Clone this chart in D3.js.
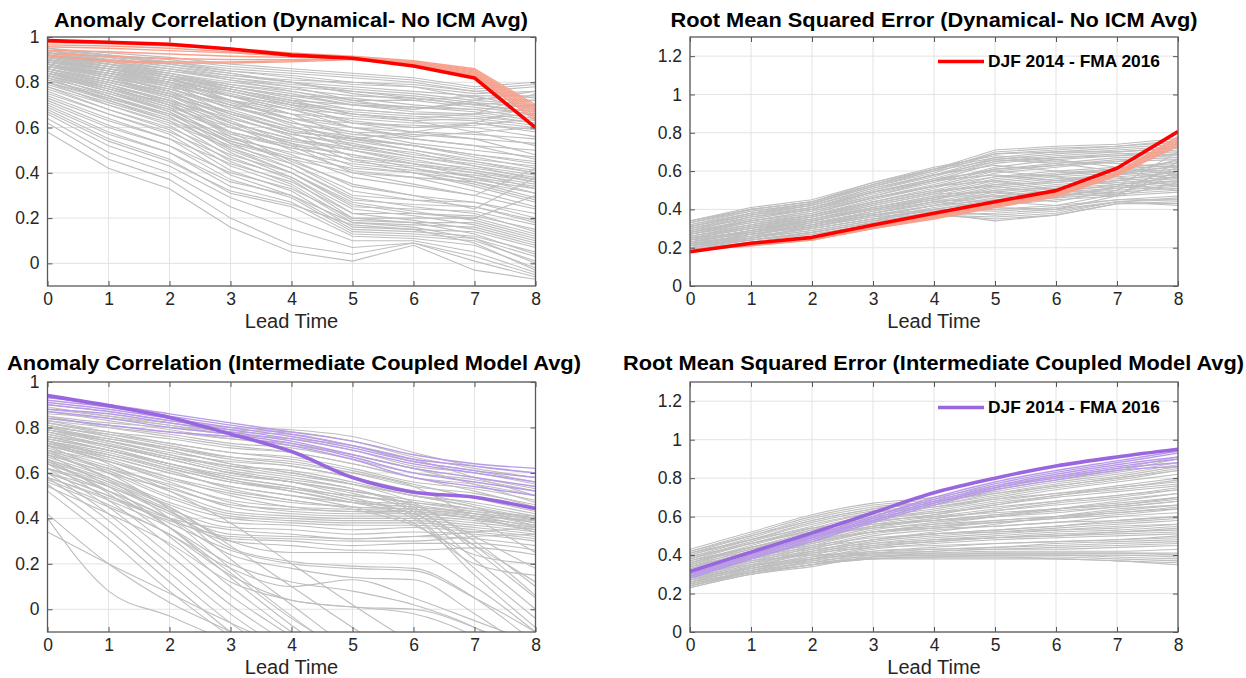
<!DOCTYPE html>
<html><head><meta charset="utf-8">
<script src="https://cdn.jsdelivr.net/npm/d3@7"></script>
<style>
body{margin:0;background:#fff;}
svg{display:block;font-family:"Liberation Sans",Arial,Helvetica,sans-serif;}
</style></head><body>
<svg id="chart" width="1246" height="678"></svg>
<script>
// ---------- shared ----------
const leadTimes = [0,1,2,3,4,5,6,7,8];
const xTickLabels = ["0","1","2","3","4","5","6","7","8"];
const acTicks = [0,0.2,0.4,0.6,0.8,1];
const rmseTicks = [0,0.2,0.4,0.6,0.8,1,1.2];
const legendLabel = "DJF 2014 - FMA 2016";
const titles = [
  "Anomaly Correlation (Dynamical- No ICM Avg)",
  "Root Mean Squared Error (Dynamical- No ICM Avg)",
  "Anomaly Correlation (Intermediate Coupled Model Avg)",
  "Root Mean Squared Error (Intermediate Coupled Model Avg)"
];
const xLabel = "Lead Time";

// ---------- panel 1: anomaly correlation, dynamical ----------
const acDynGray = [
[0.95,0.93,0.91,0.88,0.86,0.84,0.82,0.78,0.80],
[0.94,0.92,0.90,0.87,0.85,0.83,0.81,0.77,0.79],
[0.93,0.91,0.89,0.86,0.84,0.82,0.80,0.76,0.78],
[0.93,0.90,0.88,0.85,0.82,0.79,0.78,0.75,0.76],
[0.92,0.90,0.87,0.84,0.80,0.78,0.76,0.74,0.74],
[0.92,0.89,0.86,0.83,0.81,0.80,0.78,0.73,0.72],
[0.91,0.89,0.86,0.82,0.79,0.77,0.75,0.72,0.70],
[0.91,0.88,0.85,0.81,0.78,0.76,0.74,0.71,0.69],
[0.90,0.87,0.84,0.80,0.77,0.74,0.73,0.70,0.67],
[0.90,0.86,0.83,0.79,0.76,0.72,0.72,0.69,0.66],
[0.89,0.86,0.82,0.78,0.74,0.73,0.70,0.68,0.64],
[0.89,0.85,0.81,0.77,0.72,0.70,0.69,0.67,0.63],
[0.88,0.84,0.80,0.76,0.71,0.68,0.66,0.65,0.62],
[0.88,0.83,0.79,0.74,0.70,0.67,0.65,0.64,0.61],
[0.87,0.83,0.78,0.72,0.68,0.66,0.64,0.63,0.60],
[0.87,0.82,0.77,0.70,0.66,0.64,0.62,0.62,0.58],
[0.86,0.81,0.76,0.69,0.64,0.62,0.61,0.60,0.56],
[0.94,0.91,0.87,0.83,0.80,0.75,0.72,0.74,0.68],
[0.93,0.89,0.85,0.82,0.78,0.72,0.68,0.71,0.65],
[0.95,0.92,0.89,0.85,0.83,0.80,0.79,0.76,0.73],
[0.91,0.88,0.84,0.79,0.75,0.70,0.67,0.66,0.62],
[0.90,0.86,0.81,0.75,0.69,0.63,0.60,0.62,0.59],
[0.92,0.87,0.82,0.72,0.64,0.60,0.55,0.52,0.50],
[0.91,0.86,0.80,0.70,0.62,0.58,0.53,0.50,0.47],
[0.90,0.85,0.79,0.68,0.60,0.56,0.52,0.48,0.45],
[0.89,0.84,0.78,0.66,0.58,0.55,0.50,0.46,0.43],
[0.88,0.83,0.76,0.64,0.57,0.53,0.48,0.45,0.41],
[0.87,0.82,0.75,0.62,0.55,0.51,0.47,0.44,0.40],
[0.86,0.80,0.73,0.60,0.54,0.50,0.45,0.42,0.38],
[0.85,0.79,0.72,0.58,0.52,0.48,0.44,0.41,0.37],
[0.84,0.78,0.70,0.57,0.51,0.46,0.43,0.40,0.36],
[0.83,0.76,0.68,0.55,0.49,0.44,0.41,0.39,0.35],
[0.82,0.75,0.67,0.54,0.47,0.42,0.40,0.37,0.33],
[0.81,0.74,0.66,0.53,0.46,0.40,0.38,0.36,0.31],
[0.89,0.85,0.80,0.74,0.66,0.55,0.52,0.47,0.42],
[0.88,0.84,0.78,0.72,0.63,0.52,0.49,0.43,0.39],
[0.87,0.83,0.77,0.70,0.61,0.50,0.46,0.41,0.36],
[0.86,0.81,0.75,0.67,0.58,0.47,0.44,0.38,0.34],
[0.90,0.86,0.81,0.76,0.70,0.62,0.58,0.55,0.48],
[0.85,0.80,0.74,0.65,0.56,0.45,0.42,0.36,0.29],
[0.84,0.79,0.72,0.63,0.53,0.43,0.40,0.34,0.27],
[0.83,0.77,0.70,0.61,0.50,0.41,0.38,0.32,0.25],
[0.86,0.79,0.71,0.56,0.44,0.30,0.28,0.27,0.22],
[0.85,0.77,0.69,0.53,0.42,0.28,0.26,0.25,0.19],
[0.84,0.76,0.67,0.51,0.40,0.25,0.24,0.23,0.17],
[0.83,0.74,0.65,0.49,0.38,0.22,0.22,0.21,0.15],
[0.82,0.72,0.63,0.47,0.37,0.20,0.20,0.20,0.13],
[0.80,0.70,0.61,0.45,0.35,0.19,0.18,0.18,0.11],
[0.78,0.68,0.59,0.43,0.34,0.18,0.17,0.16,0.09],
[0.76,0.66,0.57,0.41,0.32,0.16,0.15,0.14,0.07],
[0.74,0.64,0.55,0.39,0.30,0.15,0.14,0.12,0.05],
[0.72,0.61,0.52,0.37,0.29,0.14,0.13,0.11,0.03],
[0.70,0.58,0.49,0.34,0.27,0.13,0.12,0.10,0.01],
[0.68,0.55,0.46,0.31,0.25,0.12,0.11,0.08,-0.02],
[0.66,0.52,0.43,0.29,0.20,0.10,0.10,0.05,-0.04],
[0.64,0.49,0.40,0.25,0.15,0.07,0.09,0.03,-0.05],
[0.62,0.46,0.37,0.20,0.08,0.04,0.09,0.01,-0.06],
[0.58,0.42,0.33,0.16,0.05,0.01,0.08,-0.03,-0.07],
[0.88,0.83,0.76,0.66,0.58,0.55,0.58,0.62,0.70],
[0.86,0.81,0.74,0.62,0.52,0.40,0.35,0.30,0.42],
[0.84,0.78,0.70,0.58,0.45,0.35,0.30,0.24,0.38],
[0.80,0.73,0.65,0.50,0.40,0.26,0.22,0.20,0.30],
[0.92,0.88,0.83,0.77,0.71,0.66,0.63,0.58,0.52],
[0.87,0.84,0.80,0.74,0.68,0.60,0.56,0.58,0.60],
[0.95,0.92,0.88,0.84,0.80,0.76,0.73,0.70,0.72],
[0.94,0.90,0.86,0.81,0.76,0.71,0.69,0.68,0.70],
[0.93,0.89,0.84,0.78,0.73,0.68,0.66,0.66,0.68],
[0.92,0.88,0.83,0.76,0.70,0.65,0.63,0.64,0.66],
[0.91,0.87,0.82,0.74,0.68,0.62,0.60,0.61,0.64],
[0.90,0.85,0.80,0.72,0.66,0.60,0.58,0.57,0.55],
[0.89,0.84,0.79,0.71,0.64,0.58,0.57,0.55,0.53],
[0.88,0.82,0.77,0.69,0.62,0.57,0.55,0.52,0.46],
[0.87,0.81,0.75,0.67,0.60,0.55,0.52,0.48,0.44],
[0.86,0.80,0.74,0.66,0.59,0.54,0.50,0.45,0.40],
[0.85,0.78,0.72,0.64,0.57,0.52,0.47,0.43,0.37],
[0.84,0.77,0.71,0.62,0.55,0.50,0.44,0.40,0.33],
[0.83,0.76,0.69,0.60,0.53,0.48,0.42,0.38,0.31],
[0.82,0.75,0.68,0.58,0.51,0.46,0.40,0.35,0.28],
[0.81,0.73,0.66,0.56,0.48,0.38,0.34,0.30,0.24],
[0.80,0.72,0.64,0.54,0.46,0.34,0.30,0.27,0.20],
[0.79,0.71,0.63,0.52,0.44,0.32,0.28,0.25,0.18],
[0.78,0.70,0.62,0.51,0.42,0.29,0.25,0.22,0.14],
[0.77,0.68,0.60,0.48,0.40,0.27,0.23,0.19,0.12],
[0.75,0.66,0.58,0.46,0.38,0.24,0.21,0.17,0.10],
[0.73,0.63,0.55,0.44,0.36,0.22,0.19,0.15,0.08],
[0.71,0.60,0.52,0.40,0.33,0.20,0.18,0.13,0.04],
[0.69,0.57,0.49,0.36,0.30,0.18,0.16,0.11,0.00],
[0.67,0.54,0.45,0.32,0.26,0.17,0.15,0.09,-0.03],
[0.91,0.87,0.83,0.78,0.74,0.70,0.68,0.72,0.76],
[0.90,0.86,0.82,0.77,0.72,0.66,0.64,0.66,0.75]
];
const acDynMembers = [
[0.980,0.975,0.965,0.950,0.930,0.915,0.895,0.860,0.70],
[0.975,0.970,0.960,0.945,0.925,0.910,0.890,0.855,0.69],
[0.965,0.960,0.950,0.935,0.920,0.910,0.890,0.850,0.68],
[0.957,0.950,0.940,0.930,0.915,0.905,0.885,0.845,0.67],
[0.942,0.935,0.925,0.915,0.910,0.905,0.885,0.840,0.66],
[0.928,0.915,0.905,0.900,0.900,0.905,0.880,0.835,0.65],
[0.917,0.895,0.890,0.890,0.895,0.905,0.880,0.830,0.64],
[0.920,0.890,0.885,0.885,0.890,0.900,0.875,0.830,0.63]
];
const acDynAvg = [0.984,0.977,0.968,0.947,0.920,0.906,0.872,0.819,0.600];

// ---------- panel 2: RMSE, dynamical ----------
const rmseDynGray = [
[0.34,0.40,0.44,0.53,0.60,0.70,0.72,0.73,0.76],
[0.33,0.39,0.43,0.52,0.59,0.69,0.71,0.73,0.75],
[0.32,0.38,0.42,0.51,0.58,0.67,0.70,0.72,0.74],
[0.31,0.37,0.41,0.50,0.57,0.66,0.69,0.71,0.73],
[0.30,0.36,0.40,0.49,0.56,0.65,0.68,0.70,0.72],
[0.30,0.35,0.40,0.48,0.55,0.64,0.67,0.69,0.70],
[0.29,0.34,0.39,0.47,0.54,0.62,0.66,0.68,0.69],
[0.28,0.34,0.38,0.46,0.53,0.61,0.64,0.67,0.68],
[0.28,0.33,0.37,0.45,0.52,0.60,0.63,0.66,0.67],
[0.27,0.32,0.37,0.44,0.51,0.59,0.62,0.65,0.66],
[0.27,0.32,0.36,0.44,0.50,0.57,0.60,0.62,0.64],
[0.26,0.31,0.36,0.43,0.49,0.56,0.59,0.61,0.63],
[0.26,0.31,0.35,0.42,0.48,0.55,0.58,0.60,0.62],
[0.25,0.30,0.35,0.41,0.47,0.54,0.57,0.59,0.61],
[0.25,0.30,0.34,0.40,0.46,0.53,0.56,0.58,0.60],
[0.24,0.29,0.34,0.40,0.45,0.52,0.55,0.57,0.59],
[0.24,0.29,0.33,0.39,0.45,0.51,0.54,0.56,0.58],
[0.23,0.28,0.33,0.38,0.44,0.50,0.53,0.55,0.57],
[0.23,0.28,0.32,0.38,0.43,0.49,0.52,0.54,0.56],
[0.22,0.27,0.32,0.37,0.42,0.48,0.51,0.53,0.55],
[0.22,0.27,0.31,0.36,0.42,0.47,0.50,0.52,0.54],
[0.21,0.26,0.30,0.35,0.41,0.46,0.49,0.51,0.53],
[0.21,0.25,0.30,0.35,0.40,0.45,0.48,0.50,0.52],
[0.20,0.25,0.29,0.34,0.40,0.44,0.47,0.49,0.51],
[0.20,0.24,0.28,0.33,0.39,0.43,0.46,0.48,0.50],
[0.19,0.24,0.28,0.33,0.38,0.42,0.45,0.47,0.49],
[0.19,0.23,0.27,0.32,0.38,0.40,0.42,0.45,0.47],
[0.20,0.24,0.27,0.32,0.37,0.38,0.40,0.44,0.46],
[0.21,0.24,0.28,0.33,0.37,0.36,0.38,0.44,0.45],
[0.22,0.25,0.29,0.34,0.37,0.35,0.37,0.43,0.44],
[0.23,0.26,0.30,0.35,0.38,0.34,0.37,0.43,0.43],
[0.24,0.27,0.31,0.36,0.39,0.37,0.39,0.44,0.42],
[0.25,0.28,0.32,0.37,0.40,0.39,0.41,0.45,0.45],
[0.31,0.38,0.43,0.52,0.60,0.66,0.64,0.60,0.56],
[0.30,0.37,0.42,0.50,0.58,0.63,0.60,0.57,0.52],
[0.29,0.36,0.41,0.49,0.56,0.60,0.57,0.53,0.50],
[0.33,0.40,0.44,0.54,0.62,0.68,0.66,0.62,0.58],
[0.32,0.39,0.43,0.53,0.61,0.67,0.65,0.64,0.62],
[0.27,0.33,0.38,0.46,0.52,0.55,0.50,0.48,0.60],
[0.26,0.32,0.37,0.44,0.50,0.52,0.48,0.47,0.65],
[0.25,0.30,0.36,0.42,0.48,0.49,0.46,0.52,0.70],
[0.28,0.35,0.40,0.47,0.55,0.58,0.55,0.58,0.66],
[0.24,0.29,0.35,0.41,0.47,0.47,0.44,0.50,0.62],
[0.23,0.28,0.34,0.40,0.45,0.44,0.42,0.48,0.58],
[0.34,0.41,0.45,0.54,0.61,0.71,0.73,0.74,0.77],
[0.22,0.26,0.33,0.38,0.44,0.41,0.40,0.47,0.54],
[0.33,0.40,0.44,0.53,0.61,0.69,0.70,0.70,0.72],
[0.31,0.38,0.42,0.51,0.58,0.65,0.67,0.68,0.71],
[0.29,0.36,0.41,0.49,0.55,0.61,0.63,0.65,0.69],
[0.27,0.34,0.39,0.46,0.52,0.57,0.58,0.61,0.65],
[0.25,0.31,0.36,0.43,0.49,0.53,0.54,0.58,0.63],
[0.23,0.29,0.34,0.41,0.46,0.50,0.51,0.55,0.60],
[0.21,0.27,0.32,0.39,0.44,0.47,0.49,0.53,0.57],
[0.20,0.25,0.31,0.37,0.42,0.45,0.47,0.51,0.55]
];
const rmseDynMembers = [
[0.180,0.215,0.250,0.315,0.370,0.430,0.485,0.595,0.78],
[0.185,0.215,0.245,0.310,0.365,0.425,0.480,0.590,0.77],
[0.185,0.210,0.245,0.305,0.360,0.420,0.475,0.585,0.76],
[0.190,0.215,0.240,0.300,0.355,0.415,0.470,0.580,0.75],
[0.190,0.210,0.240,0.300,0.350,0.410,0.465,0.575,0.74],
[0.185,0.220,0.250,0.310,0.360,0.420,0.470,0.580,0.73]
];
const rmseDynAvg = [0.179,0.223,0.254,0.318,0.380,0.440,0.498,0.615,0.806];

// ---------- panel 3: anomaly correlation, ICM ----------
const acIcmGray = [
[0.90,0.87,0.83,0.80,0.79,0.76,0.69,0.63,0.60],
[0.88,0.85,0.82,0.79,0.78,0.74,0.67,0.62,0.58],
[0.86,0.84,0.81,0.78,0.77,0.72,0.65,0.61,0.56],
[0.85,0.82,0.80,0.77,0.75,0.70,0.63,0.60,0.55],
[0.84,0.81,0.78,0.75,0.73,0.68,0.62,0.58,0.53],
[0.83,0.80,0.77,0.73,0.71,0.66,0.60,0.57,0.52],
[0.82,0.78,0.75,0.71,0.69,0.64,0.58,0.55,0.50],
[0.80,0.77,0.73,0.69,0.67,0.62,0.56,0.53,0.48],
[0.79,0.75,0.71,0.67,0.65,0.60,0.54,0.51,0.46],
[0.78,0.74,0.69,0.65,0.63,0.58,0.52,0.49,0.44],
[0.76,0.72,0.67,0.63,0.61,0.56,0.50,0.47,0.42],
[0.75,0.70,0.64,0.57,0.52,0.47,0.45,0.43,0.41],
[0.74,0.68,0.61,0.53,0.48,0.45,0.44,0.42,0.40],
[0.73,0.66,0.58,0.50,0.45,0.43,0.43,0.41,0.39],
[0.72,0.65,0.56,0.47,0.43,0.42,0.42,0.40,0.37],
[0.71,0.63,0.54,0.45,0.42,0.41,0.41,0.39,0.36],
[0.70,0.62,0.52,0.43,0.41,0.40,0.40,0.38,0.35],
[0.69,0.61,0.50,0.42,0.40,0.39,0.39,0.37,0.34],
[0.68,0.60,0.49,0.41,0.39,0.38,0.38,0.36,0.33],
[0.67,0.58,0.47,0.40,0.38,0.37,0.37,0.35,0.32],
[0.66,0.57,0.46,0.38,0.37,0.35,0.36,0.34,0.31],
[0.65,0.56,0.44,0.36,0.35,0.33,0.34,0.33,0.30],
[0.64,0.55,0.43,0.33,0.32,0.31,0.32,0.31,0.28],
[0.62,0.54,0.42,0.31,0.30,0.28,0.29,0.29,0.26],
[0.60,0.52,0.40,0.30,0.28,0.26,0.26,0.27,0.24],
[0.78,0.72,0.66,0.60,0.56,0.50,0.47,0.44,0.40],
[0.77,0.71,0.64,0.58,0.54,0.48,0.46,0.42,0.38],
[0.81,0.76,0.70,0.64,0.60,0.55,0.50,0.45,0.36],
[0.80,0.75,0.70,0.64,0.60,0.55,0.47,0.30,0.10],
[0.79,0.74,0.68,0.62,0.58,0.53,0.45,0.26,0.05],
[0.77,0.72,0.66,0.60,0.56,0.51,0.43,0.22,0.00],
[0.76,0.70,0.64,0.58,0.54,0.49,0.41,0.18,-0.04],
[0.74,0.69,0.62,0.56,0.52,0.47,0.40,0.15,-0.08],
[0.72,0.67,0.60,0.54,0.50,0.45,0.38,0.20,0.15],
[0.70,0.65,0.58,0.52,0.48,0.44,0.37,0.24,0.20],
[0.66,0.56,0.45,0.30,0.25,0.25,0.24,0.10,-0.10],
[0.64,0.54,0.43,0.27,0.21,0.19,0.18,0.05,-0.15],
[0.62,0.52,0.40,0.24,0.18,0.14,0.13,-0.02,-0.20],
[0.58,0.48,0.36,0.20,0.12,0.08,0.02,-0.08,-0.25],
[0.56,0.45,0.33,0.15,0.04,0.01,-0.02,-0.12,-0.30],
[0.72,0.60,0.44,0.22,0.02,-0.18,-0.35,-0.50,-0.60],
[0.70,0.57,0.40,0.18,-0.03,-0.22,-0.40,-0.55,-0.65],
[0.68,0.54,0.36,0.14,-0.07,-0.25,-0.42,-0.58,-0.70],
[0.66,0.51,0.32,0.10,-0.10,-0.28,-0.45,-0.60,-0.70],
[0.64,0.48,0.28,0.06,-0.12,-0.30,-0.48,-0.60,-0.70],
[0.62,0.45,0.24,0.02,-0.16,-0.34,-0.50,-0.60,-0.70],
[0.60,0.42,0.20,-0.02,-0.20,-0.38,-0.50,-0.60,-0.70],
[0.58,0.39,0.16,-0.06,-0.24,-0.40,-0.50,-0.60,-0.70],
[0.55,0.35,0.12,-0.10,-0.30,-0.45,-0.50,-0.60,-0.70],
[0.52,0.31,0.08,-0.12,-0.30,-0.45,-0.50,-0.60,-0.70],
[0.42,0.20,0.03,-0.10,-0.25,-0.40,-0.50,-0.60,-0.70],
[0.40,0.08,-0.03,-0.15,-0.30,-0.40,-0.50,-0.60,-0.70],
[0.34,0.20,0.07,-0.06,-0.18,-0.30,-0.45,-0.60,-0.70],
[0.60,0.50,0.38,0.26,0.20,0.18,0.17,0.05,-0.10],
[0.57,0.46,0.33,0.18,0.10,0.13,0.05,-0.05,-0.15],
[0.54,0.42,0.29,0.12,0.04,0.01,0.00,-0.08,-0.20],
[0.89,0.85,0.81,0.77,0.75,0.72,0.66,0.58,0.50],
[0.87,0.83,0.79,0.75,0.72,0.68,0.62,0.55,0.47],
[0.85,0.80,0.76,0.72,0.69,0.64,0.58,0.52,0.45],
[0.83,0.78,0.73,0.69,0.66,0.61,0.55,0.49,0.43],
[0.81,0.76,0.71,0.66,0.63,0.58,0.52,0.46,0.41],
[0.80,0.74,0.68,0.63,0.59,0.55,0.50,0.45,0.40],
[0.78,0.72,0.66,0.60,0.56,0.52,0.48,0.44,0.39],
[0.76,0.70,0.63,0.57,0.53,0.50,0.47,0.43,0.38],
[0.74,0.67,0.60,0.54,0.50,0.47,0.45,0.42,0.37],
[0.72,0.65,0.57,0.51,0.47,0.45,0.44,0.41,0.36],
[0.70,0.62,0.55,0.48,0.45,0.44,0.43,0.40,0.35],
[0.68,0.60,0.53,0.46,0.44,0.43,0.42,0.40,0.34],
[0.82,0.77,0.72,0.67,0.64,0.60,0.54,0.40,0.25],
[0.75,0.70,0.64,0.59,0.56,0.52,0.46,0.32,0.18],
[0.73,0.68,0.62,0.56,0.53,0.48,0.42,0.28,0.12],
[0.79,0.73,0.67,0.61,0.57,0.53,0.44,0.28,0.06],
[0.60,0.50,0.40,0.35,0.33,0.31,0.32,0.34,0.36],
[0.58,0.49,0.39,0.32,0.31,0.30,0.30,0.32,0.33],
[0.74,0.64,0.52,0.38,0.20,0.02,-0.15,-0.30,-0.45],
[0.69,0.58,0.45,0.28,0.10,-0.08,-0.25,-0.40,-0.55],
[0.65,0.52,0.36,0.16,-0.04,-0.20,-0.35,-0.50,-0.60]
];
const acIcmMembers = [
[0.93,0.90,0.86,0.82,0.78,0.74,0.68,0.64,0.62],
[0.92,0.89,0.85,0.81,0.77,0.72,0.66,0.63,0.60],
[0.91,0.88,0.84,0.80,0.76,0.71,0.65,0.61,0.58],
[0.90,0.87,0.83,0.79,0.75,0.70,0.64,0.60,0.56],
[0.88,0.86,0.82,0.78,0.74,0.68,0.62,0.58,0.54],
[0.87,0.84,0.80,0.77,0.73,0.67,0.60,0.56,0.52],
[0.84,0.81,0.78,0.76,0.72,0.66,0.58,0.54,0.50]
];
const acIcmAvg = [0.940,0.896,0.844,0.771,0.694,0.580,0.515,0.493,0.443];

// ---------- panel 4: RMSE, ICM ----------
const rmseIcmGray = [
[0.43,0.52,0.61,0.67,0.70,0.76,0.81,0.85,0.91],
[0.42,0.51,0.60,0.66,0.69,0.75,0.80,0.84,0.90],
[0.41,0.50,0.59,0.65,0.68,0.74,0.79,0.83,0.88],
[0.40,0.49,0.58,0.64,0.67,0.73,0.78,0.82,0.87],
[0.39,0.48,0.57,0.63,0.66,0.72,0.77,0.81,0.86],
[0.38,0.47,0.55,0.62,0.66,0.71,0.76,0.80,0.85],
[0.37,0.46,0.54,0.61,0.65,0.70,0.75,0.79,0.84],
[0.36,0.45,0.53,0.60,0.64,0.69,0.74,0.78,0.82],
[0.35,0.44,0.52,0.59,0.63,0.68,0.72,0.76,0.80],
[0.34,0.43,0.51,0.58,0.62,0.67,0.71,0.75,0.78],
[0.33,0.42,0.50,0.57,0.61,0.66,0.70,0.73,0.76],
[0.32,0.41,0.49,0.56,0.60,0.64,0.68,0.71,0.74],
[0.31,0.40,0.48,0.55,0.59,0.63,0.66,0.69,0.72],
[0.30,0.39,0.47,0.54,0.58,0.61,0.64,0.67,0.70],
[0.29,0.38,0.46,0.53,0.57,0.60,0.62,0.65,0.68],
[0.29,0.37,0.45,0.52,0.55,0.58,0.60,0.63,0.66],
[0.28,0.36,0.44,0.51,0.54,0.57,0.59,0.62,0.64],
[0.28,0.35,0.43,0.50,0.53,0.55,0.57,0.60,0.62],
[0.27,0.34,0.42,0.48,0.51,0.53,0.55,0.58,0.60],
[0.27,0.34,0.41,0.47,0.50,0.52,0.54,0.56,0.58],
[0.26,0.33,0.40,0.46,0.49,0.51,0.53,0.55,0.56],
[0.26,0.33,0.39,0.45,0.48,0.50,0.52,0.53,0.55],
[0.25,0.32,0.38,0.44,0.47,0.49,0.50,0.52,0.53],
[0.25,0.32,0.38,0.43,0.46,0.48,0.49,0.50,0.51],
[0.24,0.31,0.37,0.42,0.44,0.46,0.47,0.48,0.49],
[0.24,0.31,0.36,0.41,0.43,0.44,0.45,0.46,0.47],
[0.23,0.30,0.35,0.40,0.42,0.43,0.43,0.44,0.45],
[0.23,0.30,0.35,0.39,0.41,0.42,0.42,0.42,0.43],
[0.24,0.30,0.34,0.39,0.40,0.41,0.41,0.41,0.41],
[0.25,0.31,0.35,0.38,0.39,0.40,0.40,0.40,0.39],
[0.26,0.31,0.35,0.38,0.39,0.39,0.39,0.38,0.37],
[0.27,0.32,0.36,0.38,0.38,0.38,0.38,0.37,0.36],
[0.28,0.33,0.37,0.39,0.39,0.39,0.38,0.37,0.35],
[0.30,0.35,0.38,0.40,0.40,0.40,0.40,0.39,0.38],
[0.32,0.37,0.40,0.41,0.41,0.41,0.41,0.41,0.40],
[0.41,0.48,0.54,0.58,0.60,0.62,0.64,0.66,0.70],
[0.39,0.46,0.52,0.56,0.58,0.60,0.63,0.65,0.68],
[0.37,0.44,0.50,0.54,0.56,0.58,0.60,0.62,0.65],
[0.35,0.42,0.48,0.52,0.54,0.55,0.57,0.58,0.60],
[0.33,0.40,0.45,0.49,0.51,0.52,0.53,0.54,0.56],
[0.31,0.38,0.43,0.46,0.48,0.49,0.50,0.51,0.52],
[0.29,0.36,0.41,0.44,0.45,0.46,0.47,0.48,0.50],
[0.27,0.34,0.39,0.42,0.43,0.44,0.46,0.47,0.48],
[0.36,0.44,0.51,0.57,0.61,0.66,0.71,0.74,0.77],
[0.34,0.41,0.49,0.55,0.59,0.63,0.67,0.70,0.74],
[0.31,0.39,0.46,0.52,0.56,0.60,0.64,0.68,0.72],
[0.28,0.35,0.42,0.48,0.52,0.56,0.60,0.64,0.66],
[0.42,0.50,0.58,0.64,0.68,0.72,0.76,0.80,0.84],
[0.40,0.48,0.56,0.62,0.65,0.69,0.72,0.75,0.79],
[0.38,0.46,0.53,0.59,0.62,0.65,0.68,0.71,0.75],
[0.36,0.43,0.50,0.55,0.58,0.61,0.64,0.66,0.69],
[0.34,0.41,0.47,0.52,0.55,0.57,0.59,0.61,0.64],
[0.32,0.39,0.44,0.48,0.51,0.53,0.55,0.57,0.59],
[0.30,0.37,0.42,0.45,0.47,0.49,0.51,0.52,0.54],
[0.26,0.33,0.38,0.41,0.42,0.43,0.44,0.45,0.46]
];
const rmseIcmMembers = [
[0.30,0.40,0.50,0.60,0.70,0.78,0.84,0.89,0.94],
[0.30,0.40,0.50,0.60,0.69,0.77,0.83,0.88,0.93],
[0.29,0.39,0.49,0.59,0.68,0.76,0.82,0.87,0.91],
[0.29,0.39,0.49,0.58,0.67,0.75,0.81,0.86,0.90],
[0.28,0.38,0.48,0.58,0.67,0.75,0.80,0.85,0.88],
[0.28,0.38,0.47,0.57,0.66,0.74,0.79,0.84,0.86]
];
const rmseIcmAvg = [0.315,0.415,0.515,0.620,0.724,0.800,0.863,0.910,0.950];

// ---------- drawing ----------
const svg = d3.select("#chart");
const fmt = v => String(+v.toFixed(1));

const panels = [
  {left:47.5, right:535.5, top:37, bottom:286, dom:[-0.1,1], ticks:acTicks, gray:acDynGray, members:acDynMembers, avg:acDynAvg,
   light:"#f7a18d", strong:"#ff0000", title:titles[0], tCx:291, tW:474, tY:27, smooth:false, legend:false},
  {left:690, right:1178, top:37, bottom:286, dom:[0,1.3], ticks:rmseTicks, gray:rmseDynGray, members:rmseDynMembers, avg:rmseDynAvg,
   light:"#f7a18d", strong:"#ff0000", title:titles[1], tCx:934, tW:527, tY:27, smooth:false, legend:true, legY:61.5},
  {left:47.5, right:535.5, top:382, bottom:632, dom:[-0.1,1], ticks:acTicks, gray:acIcmGray, members:acIcmMembers, avg:acIcmAvg,
   light:"#b99ae8", strong:"#9a66e0", title:titles[2], tCx:294, tW:574, tY:369.5, smooth:true, legend:false},
  {left:690, right:1178, top:382, bottom:632, dom:[0,1.3], ticks:rmseTicks, gray:rmseIcmGray, members:rmseIcmMembers, avg:rmseIcmAvg,
   light:"#b99ae8", strong:"#9a66e0", title:titles[3], tCx:933.5, tW:621, tY:369.5, smooth:true, legend:true, legY:407.5}
];

panels.forEach((p, i) => {
  const x = d3.scaleLinear().domain([0,8]).range([p.left, p.right]);
  const y = d3.scaleLinear().domain(p.dom).range([p.bottom, p.top]);
  const w = p.right - p.left, h = p.bottom - p.top;
  const g = svg.append("g");

  // grid
  const grid = g.append("g").attr("class","grid");
  grid.selectAll("line.gx").data(leadTimes).join("line")
    .attr("x1", d => x(d)).attr("x2", d => x(d)).attr("y1", p.top).attr("y2", p.bottom)
    .attr("stroke", "#e3e3e3").attr("stroke-width", 1);
  grid.selectAll("line.gy").data(p.ticks).join("line")
    .attr("x1", p.left).attr("x2", p.right).attr("y1", d => y(d)).attr("y2", d => y(d))
    .attr("stroke", "#e3e3e3").attr("stroke-width", 1);

  // clip
  g.append("clipPath").attr("id", "clip" + i)
    .append("rect").attr("x", p.left).attr("y", p.top).attr("width", w).attr("height", h);

  const line = d3.line().x((d, k) => x(leadTimes[k])).y(d => y(d))
    .curve(p.smooth ? d3.curveMonotoneX : d3.curveLinear);
  const data = g.append("g").attr("clip-path", `url(#clip${i})`);
  data.selectAll("path.gray").data(p.gray).join("path")
    .attr("d", line).attr("fill", "none").attr("stroke", "#bebebe").attr("stroke-width", 1.1);
  data.selectAll("path.mem").data(p.members).join("path")
    .attr("d", line).attr("fill", "none").attr("stroke", p.light).attr("stroke-width", 1.4);
  data.append("path").datum(p.avg).attr("d", line).attr("fill", "none")
    .attr("stroke", p.strong).attr("stroke-width", 3.6).attr("stroke-linejoin", "round");

  // axes (inward ticks on all four sides)
  const axB = g.append("g").attr("transform", `translate(0,${p.bottom})`)
    .call(d3.axisBottom(x).tickValues(leadTimes).tickFormat((d, k) => xTickLabels[k]).tickSize(-5).tickSizeOuter(0).tickPadding(7));
  const axL = g.append("g").attr("transform", `translate(${p.left},0)`)
    .call(d3.axisLeft(y).tickValues(p.ticks).tickFormat(fmt).tickSize(-5).tickSizeOuter(0).tickPadding(8));
  const axT = g.append("g").attr("transform", `translate(0,${p.top})`)
    .call(d3.axisTop(x).tickValues(leadTimes).tickFormat("").tickSize(-5).tickSizeOuter(0));
  const axR = g.append("g").attr("transform", `translate(${p.right},0)`)
    .call(d3.axisRight(y).tickValues(p.ticks).tickFormat("").tickSize(-5).tickSizeOuter(0));
  [axB, axL, axT, axR].forEach(a => {
    a.select(".domain").remove();
    a.selectAll(".tick line").attr("stroke", "#555").attr("stroke-width", 1);
    a.selectAll("text").attr("fill", "#262626").attr("font-size", 17.5)
      .attr("font-family", '"Liberation Sans",Arial,sans-serif');
  });
  g.append("rect").attr("x", p.left).attr("y", p.top).attr("width", w).attr("height", h)
    .attr("fill", "none").attr("stroke", "#5a5a5a").attr("stroke-width", 1.3);

  // x label
  g.append("text").attr("x", (p.left + p.right) / 2).attr("y", p.bottom + 41.5)
    .attr("text-anchor", "middle").attr("font-size", 20).attr("fill", "#262626").text(xLabel);

  // title
  g.append("text").attr("x", p.tCx).attr("y", p.tY).attr("text-anchor", "middle")
    .attr("font-size", 20).attr("font-weight", "bold").attr("fill", "#000")
    .attr("textLength", p.tW).attr("lengthAdjust", "spacingAndGlyphs").text(p.title);

  // legend
  if (p.legend) {
    g.append("line").attr("x1", 938).attr("x2", 984).attr("y1", p.legY).attr("y2", p.legY)
      .attr("stroke", p.strong).attr("stroke-width", 3.6);
    g.append("text").attr("x", 988).attr("y", p.legY + 5.5).attr("font-size", 16.5).attr("font-weight", "bold")
      .attr("fill", "#000").attr("textLength", 172).attr("lengthAdjust", "spacingAndGlyphs").text(legendLabel);
  }
});
</script>
</body></html>
